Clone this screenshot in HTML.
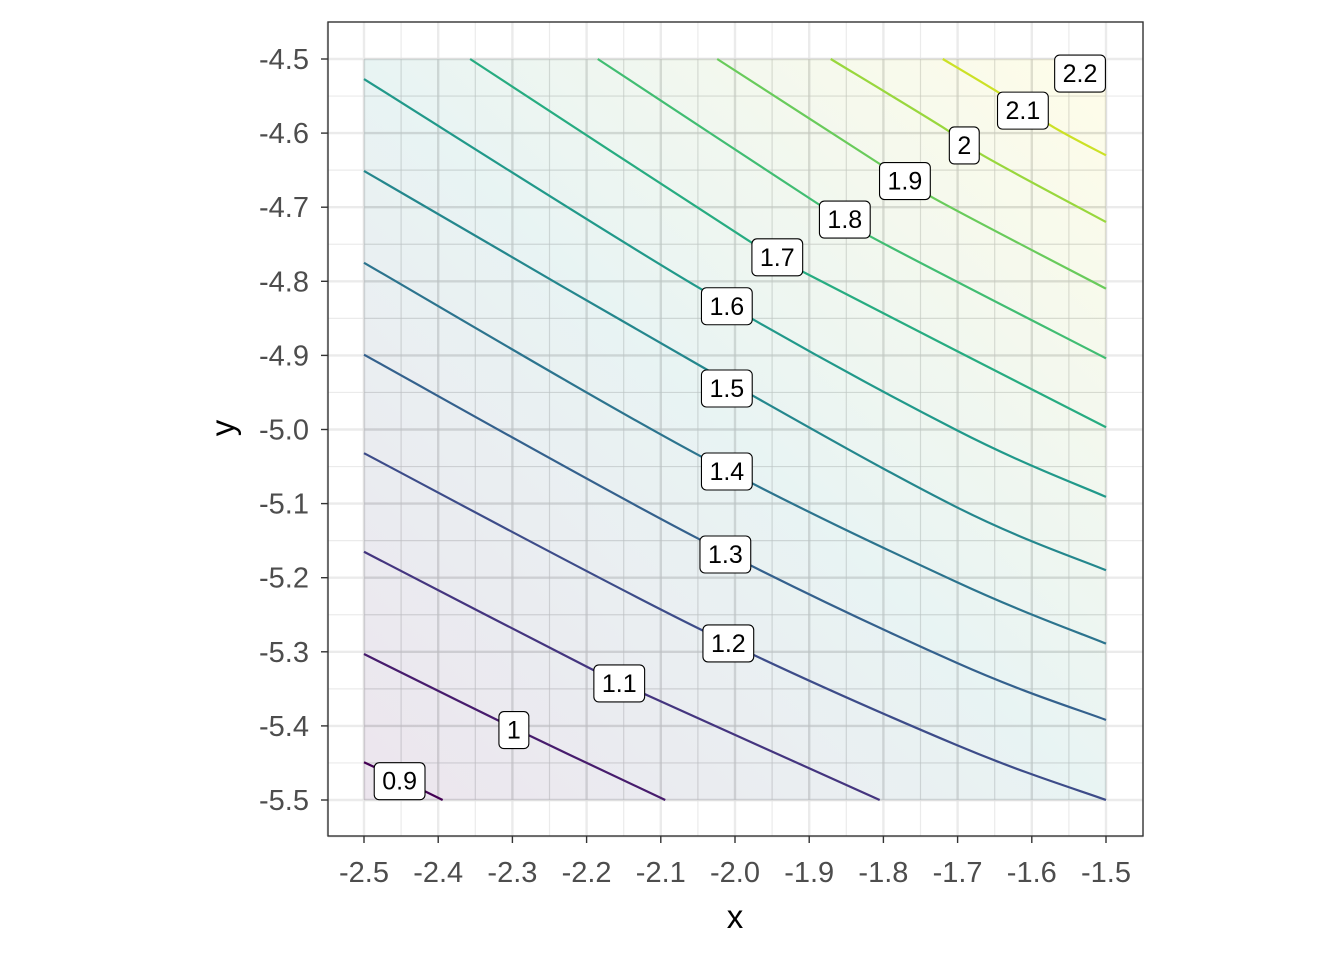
<!DOCTYPE html>
<html><head><meta charset="utf-8">
<style>
html,body{margin:0;padding:0;background:#fff;}
svg{display:block;font-family:"Liberation Sans",Arial,sans-serif;}
</style></head>
<body>
<svg id="chart" width="1344" height="960" viewBox="0 0 1344 960" xmlns="http://www.w3.org/2000/svg">
<defs>
<linearGradient id="fillGrad" x1="0" y1="1" x2="1" y2="0">
<stop offset="0" stop-color="#440154"/>
<stop offset="0.5" stop-color="#21908c"/>
<stop offset="1" stop-color="#fde725"/>
</linearGradient>
</defs>
<rect x="0" y="0" width="1344" height="960" fill="#fff"/>
<g id="grid"></g>
<rect id="raster" fill="url(#fillGrad)" fill-opacity="0.1"/>
<g id="grid2"></g>
<g id="lines"></g>
<g id="labels"></g>
<rect x="328" y="22" width="815" height="814" fill="none" stroke="#333" stroke-width="1.4"/>
<g id="axes"></g>
<text x="735" y="928" font-size="33" text-anchor="middle" fill="#000">x</text>
<text x="0" y="0" font-size="33" text-anchor="middle" fill="#000" transform="translate(234,428) rotate(-90)">y</text>
</svg>
<script>
const levels = [0.9,1.0,1.1,1.2,1.3,1.4,1.5,1.6,1.7,1.8,1.9,2.0,2.1];
const lineX = [
 [-2.5,-2.447,-2.394],
 [-2.5,-2.298,-2.094],
 [-2.5,-2.198,-2.113,-1.805],
 [-2.5,-2.050,-1.701,-1.5],
 [-2.5,-2.054,-1.701,-1.5],
 [-2.5,-2.054,-1.701,-1.5],
 [-2.5,-2.040,-1.701,-1.5],
 [-2.5,-2.050,-1.701,-1.5],
 [-2.357,-1.985,-1.903,-1.5],
 [-2.185,-1.892,-1.811,-1.5],
 [-2.024,-1.809,-1.730,-1.5],
 [-1.871,-1.717,-1.666,-1.5],
 [-1.720,-1.650,-1.569,-1.5]
];
const lineY = [
 [-5.449,-5.474,-5.5],
 [-5.303,-5.403,-5.5],
 [-5.165,-5.321,-5.361,-5.5],
 [-5.032,-5.268,-5.426,-5.5],
 [-4.899,-5.145,-5.315,-5.392],
 [-4.775,-5.032,-5.206,-5.289],
 [-4.651,-4.918,-5.105,-5.190],
 [-4.527,-4.808,-5.001,-5.091],
 [-4.5,-4.743,-4.790,-4.997],
 [-4.5,-4.693,-4.743,-4.904],
 [-4.5,-4.639,-4.689,-4.810],
 [-4.5,-4.594,-4.630,-4.720],
 [-4.5,-4.542,-4.593,-4.630]
];
const labelText = ["0.9","1","1.1","1.2","1.3","1.4","1.5","1.6","1.7","1.8","1.9","2","2.1","2.2"];
const labelX = [-2.452,-2.298,-2.156,-2.009,-2.013,-2.011,-2.011,-2.011,-1.943,-1.852,-1.771,-1.691,-1.612,-1.535];
const labelY = [-5.474,-5.405,-5.342,-5.288,-5.168,-5.056,-4.944,-4.833,-4.767,-4.716,-4.664,-4.616,-4.569,-4.519];
const xTicks = [-2.5,-2.4,-2.3,-2.2,-2.1,-2.0,-1.9,-1.8,-1.7,-1.6,-1.5];
const yTicks = [-4.5,-4.6,-4.7,-4.8,-4.9,-5.0,-5.1,-5.2,-5.3,-5.4,-5.5];
const xTickLabels = ["-2.5","-2.4","-2.3","-2.2","-2.1","-2.0","-1.9","-1.8","-1.7","-1.6","-1.5"];
const yTickLabels = ["-4.5","-4.6","-4.7","-4.8","-4.9","-5.0","-5.1","-5.2","-5.3","-5.4","-5.5"];

const NS="http://www.w3.org/2000/svg";
const sx = v => 364 + (v + 2.5) * 742;
const sy = v => 59 + (-4.5 - v) * 741;
const PX0=328, PX1=1143, PY0=22, PY1=836;
function mk(tag, attrs, parent){const e=document.createElementNS(NS,tag);for(const k in attrs)e.setAttribute(k,attrs[k]);parent.appendChild(e);return e;}
const viridis=["#440154","#482475","#414487","#355f8d","#2a788e","#21908d","#22a884","#44bf70","#7ad151","#bddf26","#fde725"];
function vir(t){t=Math.max(0,Math.min(1,t));const p=t*(viridis.length-1);const i=Math.min(Math.floor(p),viridis.length-2);const f=p-i;
 const a=viridis[i],b=viridis[i+1];const c=k=>Math.round(parseInt(a.substr(k,2),16)*(1-f)+parseInt(b.substr(k,2),16)*f);
 return `rgb(${c(1)},${c(3)},${c(5)})`;}

// grid
const grid=document.getElementById('grid');
const grid2=document.getElementById('grid2');
const RX0=sx(-2.5),RX1=sx(-1.5),RY0=sy(-4.5),RY1=sy(-5.5);
for(let v=-2.55; v<=-1.44; v+=0.05){
  const major=Math.abs(Math.round(v*10)-v*10)<1e-6;
  const el=mk('line',{x1:sx(v),x2:sx(v),y1:PY0,y2:PY1,stroke:'#ebebeb','stroke-width':major?2.4:1.2},grid);
  
  
  if(v>-2.51&&v<-1.49){
    const e2=mk('line',{x1:sx(v),x2:sx(v),y1:RY0,y2:RY1,stroke:'#000','stroke-opacity':0.05,'stroke-width':major?2.4:1.2},grid2);
    
    
  }
}
for(let v=-4.45; v>=-5.56; v-=0.05){
  const major=Math.abs(Math.round(v*10)-v*10)<1e-6;
  const el=mk('line',{x1:PX0,x2:PX1,y1:sy(v),y2:sy(v),stroke:'#ebebeb','stroke-width':major?2.4:1.2},grid);
  
  
  if(v<-4.49&&v>-5.51){
    const e2=mk('line',{x1:RX0,x2:RX1,y1:sy(v),y2:sy(v),stroke:'#000','stroke-opacity':0.05,'stroke-width':major?2.4:1.2},grid2);
    
    
  }
}
const r=document.getElementById('raster');
r.setAttribute('x',RX0);r.setAttribute('y',RY0);
r.setAttribute('width',RX1-RX0);r.setAttribute('height',RY1-RY0);

// contour lines (Catmull-Rom)
const lg=document.getElementById('lines');
levels.forEach((lv,i)=>{
  const pts=lineX[i].map((x,j)=>[sx(x),sy(lineY[i][j])]);
  let d=`M${pts[0][0]},${pts[0][1]}`;
  for(let k=0;k<pts.length-1;k++){
    const p0=pts[k-1]||pts[k],p1=pts[k],p2=pts[k+1],p3=pts[k+2]||p2;
    const c1=[p1[0]+(p2[0]-p0[0])/6,p1[1]+(p2[1]-p0[1])/6];
    const c2=[p2[0]-(p3[0]-p1[0])/6,p2[1]-(p3[1]-p1[1])/6];
    d+=` C${c1[0]},${c1[1]} ${c2[0]},${c2[1]} ${p2[0]},${p2[1]}`;
  }
  const el=mk('path',{d:d,fill:'none',stroke:vir((lv-0.9)/1.3),'stroke-width':2.2},lg);
  
  
});

// labels
const lbg=document.getElementById('labels');
labelText.forEach((t,i)=>{
  const cx=sx(labelX[i]), cy=sy(labelY[i]);
  const g=mk('g',{},lbg);
  
  
  const rect=mk('rect',{fill:'#fff',stroke:'#000','stroke-width':1.1,rx:5,ry:5},g);
  const tx=mk('text',{x:cx,y:cy+9,'font-size':25,'text-anchor':'middle',fill:'#000'},g);
  tx.textContent=t;
  const w=tx.getComputedTextLength()+16;
  rect.setAttribute('x',cx-w/2);rect.setAttribute('y',cy-18);
  rect.setAttribute('width',w);rect.setAttribute('height',37);
});

// axes
const ax=document.getElementById('axes');
xTicks.forEach((v,i)=>{
  const t=mk('line',{x1:sx(v),x2:sx(v),y1:PY1,y2:PY1+7,stroke:'#333','stroke-width':1.4},ax);
  
  
  const l=mk('text',{x:sx(v),y:882,'font-size':29,'text-anchor':'middle',fill:'#4d4d4d'},ax);
  
  
  l.textContent=xTickLabels[i];
});
yTicks.forEach((v,i)=>{
  const t=mk('line',{x1:PX0-7,x2:PX0,y1:sy(v),y2:sy(v),stroke:'#333','stroke-width':1.4},ax);
  
  
  const l=mk('text',{x:309,y:sy(v)+10,'font-size':29,'text-anchor':'end',fill:'#4d4d4d'},ax);
  
  
  l.textContent=yTickLabels[i];
});
</script>
</body></html>
